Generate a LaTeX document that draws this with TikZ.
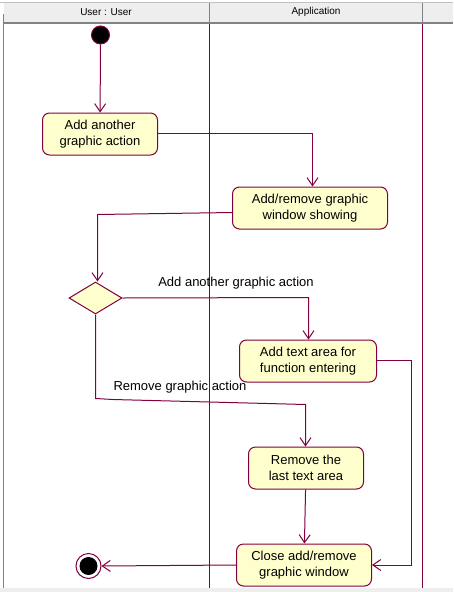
\documentclass[tikz,border=0pt]{standalone}
\usepackage{fontspec}
\setmainfont{Liberation Sans}
\usetikzlibrary{arrows.meta,shapes.geometric}
\definecolor{lnc}{RGB}{128,0,64}
\definecolor{actfill}{RGB}{255,255,206}
\definecolor{hdr}{RGB}{238,238,238}
\definecolor{hdrline}{RGB}{130,130,130}
\tikzset{
  act/.style={draw=lnc, line width=1pt, fill=actfill, rounded corners=7pt, align=center, inner sep=2pt,
    font=\fontsize{13}{16}\selectfont, minimum height=42pt},
  arr/.style={draw=lnc, line width=1pt, -{Straight Barb[length=8pt,width=11pt,line width=1pt]}},
  lane/.style={draw=lnc, line width=1pt},
  lbl/.style={font=\fontsize{13}{15}\selectfont, inner sep=0pt},
  hdrtxt/.style={font=\fontsize{10}{12}\selectfont, inner sep=0pt}
}
\begin{document}
\begin{tikzpicture}[x=1pt,y=-1pt]
\useasboundingbox (0,0) rectangle (453,592);
% header
\fill[white] (0,0) rectangle (453,592);
\fill[hdr] (4,3) rectangle (453,22);
\draw[hdrline!50, line width=1pt] (0,2.5) -- (453,2.5);
\draw[hdrline, line width=2pt] (4,23) -- (453,23);
\draw[hdrline, line width=1pt] (209.5,3) -- (209.5,22);
\draw[hdrline, line width=1pt] (422.5,3) -- (422.5,22);
\draw[hdrline, line width=1pt] (3.5,14) -- (3.5,588);
\fill[hdr] (0,588) rectangle (453,592);
\node[hdrtxt] (h1) at (106,12) {User : User};
\node[hdrtxt] (h2) at (316,12) {Application};
% lanes
\draw[lane] (209.5,24) -- (209.5,588);
\draw[lane] (422.5,24) -- (422.5,588);
% nodes
\node[circle, draw=lnc, line width=1pt, fill=black, minimum size=18pt, inner sep=0pt] (init) at (100.5,35) {};
\node[act, minimum width=115pt] (A) at (100,134) {Add another\\graphic action};
\node[act, minimum width=155pt] (B) at (310,208) {Add/remove graphic\\window showing};
\node[diamond, draw=lnc, line width=1pt, fill=actfill, minimum width=53pt, minimum height=32pt, inner sep=0pt, aspect=1.65] (dia) at (95.5,298) {};
\node[act, minimum width=137pt] (C) at (308,361) {Add text area for\\function entering};
\node[act, minimum width=115pt] (D) at (306,468) {Remove the\\last text area};
\node[act, minimum width=135pt] (E) at (304,565) {Close add/remove\\graphic window};
\node[circle, draw=lnc, line width=1pt, fill=white, minimum size=25pt, inner sep=0pt] (fin) at (88.5,566) {};
\node[circle, fill=black, minimum size=18pt, inner sep=0pt] (finin) at (fin) {};
% labels
\node[lbl] (l1) at (236,283) {Add another graphic action};
\node[lbl] (l2) at (180,387) {Remove graphic action};
% connectors
\coordinate (ab) at (312.5,133.5);
\coordinate (bd1) at (233,212.5);
\coordinate (bd) at (97.5,214.5);
\coordinate (dc) at (308.5,297.5);
\coordinate (dr) at (95.5,398.5);
\coordinate (dr2) at (113,399.5);
\coordinate (dr3) at (305.5,404.5);
\coordinate (cr) at (411.5,360.5);
\draw[arr] (init) -- (A);
\draw[arr] (A.east |- ab) -- (ab) -- (ab |- B.north);
\draw[arr] (bd1) -- (bd) -- (bd |- dia.north);
\draw[arr] (dia.east) -- (dc) -- (dc |- C.north);
\draw[arr] (dia.south) -- (dr) -- (dr2) -- (dr3) -- (dr3 |- D.north);
\draw[arr] (D) -- (E);
\draw[arr] (C.east |- cr) -- (cr) |- (E.east);
\draw[arr] (E.west) -- (fin.east);
\end{tikzpicture}
\end{document}
